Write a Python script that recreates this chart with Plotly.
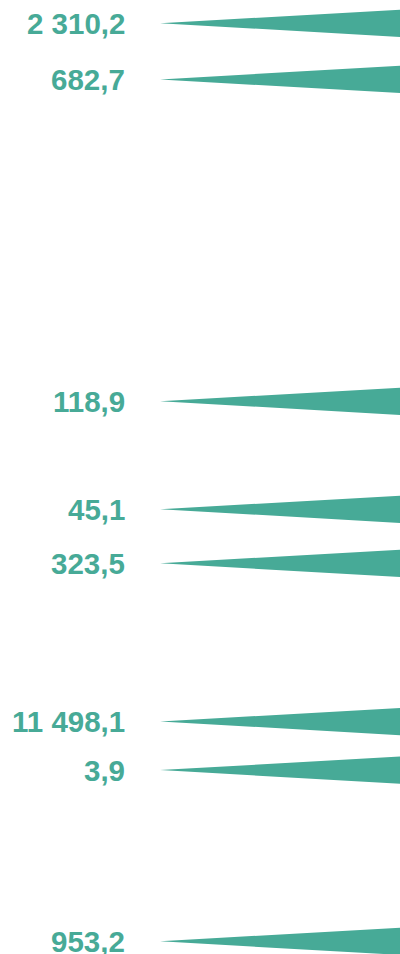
import plotly.graph_objects as go

# Data
values = [2310.2, 682.7, 118.9, 45.1, 323.5, 11498.1, 3.9, 953.2]
rows = [0, 1.04, 7, 9, 10, 12.93, 13.83, 17]  # row position of each item

COLOR = "#47aa97"
TIP_X = 0.40
END_X = 1.0
HALF = 0.252


def fmt(v):
    s = f"{v:,.1f}"
    return s.replace(",", " ").replace(".", ",")


fig = go.Figure()
for v, r in zip(values, rows):
    fig.add_trace(go.Scatter(
        x=[TIP_X, END_X, END_X, TIP_X],
        y=[r, r - HALF, r + HALF, r],
        mode="lines",
        fill="toself",
        fillcolor=COLOR,
        line=dict(width=0, color=COLOR),
        hoverinfo="skip",
        showlegend=False,
    ))
    fig.add_annotation(
        x=0.318, y=r, xref="x", yref="y",
        text=fmt(v), showarrow=False,
        xanchor="right", yanchor="middle",
        font=dict(family="Liberation Sans, Arial, sans-serif", size=29.5, color=COLOR, weight=700),
    )

fig.update_layout(
    width=400, height=954,
    margin=dict(l=0, r=0, t=0, b=0),
    paper_bgcolor="white", plot_bgcolor="white",
    xaxis=dict(range=[0, 1], visible=False, fixedrange=True),
    yaxis=dict(range=[17.235, -0.431], visible=False, fixedrange=True),
)

fig.write_html(
    "out.html",
    config={"displayModeBar": False},
    post_script="document.body.style.margin='0';document.body.style.overflow='hidden';",
)
